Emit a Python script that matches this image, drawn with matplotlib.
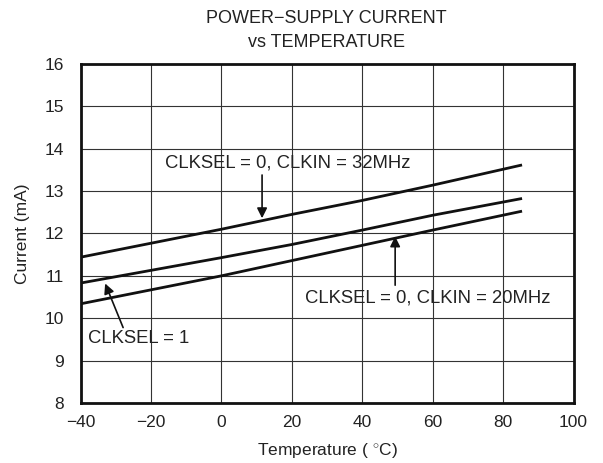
import matplotlib
matplotlib.use("Agg")
import matplotlib.pyplot as plt

temps = [-40, -20, 0, 20, 40, 60, 85]
clk32 = [11.44, 11.77, 12.10, 12.45, 12.78, 13.14, 13.61]
clk20 = [10.83, 11.13, 11.43, 11.74, 12.08, 12.43, 12.82]
clksel1 = [10.34, 10.67, 11.00, 11.36, 11.72, 12.08, 12.52]

x_ticks = [-40, -20, 0, 20, 40, 60, 80, 100]
y_ticks = [8, 9, 10, 11, 12, 13, 14, 15, 16]

plt.rcParams['font.family'] = ['Liberation Sans', 'DejaVu Sans']
plt.rcParams['mathtext.fontset'] = 'custom'
plt.rcParams['mathtext.rm'] = 'Liberation Sans'

fig = plt.figure(figsize=(6.03, 4.63), dpi=100)
ax = fig.add_axes([0.1335, 0.1296, 0.8176, 0.7322])

ax.plot(temps, clk32, color='#111111', lw=2.0)
ax.plot(temps, clk20, color='#111111', lw=2.0)
ax.plot(temps, clksel1, color='#111111', lw=2.0)

ax.set_xlim(-40, 100)
ax.set_ylim(8, 16)
ax.set_xticks(x_ticks)
ax.set_yticks(y_ticks)
ax.set_xticklabels([f"\u2212{abs(v)}" if v < 0 else str(v) for v in x_ticks])
ax.grid(True, color='#333333', lw=0.8)
ax.tick_params(axis='x', length=0, labelsize=12.5, pad=9, colors='#222222')
ax.tick_params(axis='y', length=0, labelsize=12.5, pad=12, colors='#222222')
for s in ax.spines.values():
    s.set_linewidth(2.0)
    s.set_color('#111111')

ax.set_xlabel("Temperature ( $^{\\circ}$C)", fontsize=12.5, color='#222222')
ax.xaxis.set_label_coords(0.5, -0.142)
ax.xaxis.label.set_va('center')
ax.set_ylabel("Current (mA)", fontsize=12.5, color='#222222')
ax.yaxis.set_label_coords(-0.117, 0.5)
ax.yaxis.label.set_va('center')

fig.text(0.541, 0.961, "POWER\u2212SUPPLY CURRENT", ha='center', va='center', fontsize=13, color='#222222')
fig.text(0.541, 0.909, "vs TEMPERATURE", ha='center', va='center', fontsize=13, color='#222222')

ap = dict(arrowstyle='-|>', color='#111111', lw=1.2, mutation_scale=15, shrinkA=0, shrinkB=0)

ax.text(-16.0, 13.66, "CLKSEL = 0, CLKIN = 32MHz", ha='left', va='center', fontsize=13.3, color='#222222')
ax.annotate("", xy=(11.56, 12.36), xytext=(11.56, 13.38), arrowprops=ap)

ax.text(23.8, 10.47, "CLKSEL = 0, CLKIN = 20MHz", ha='left', va='center', fontsize=13.3, color='#222222')
ax.annotate("", xy=(49.35, 11.93), xytext=(49.35, 10.78), arrowprops=ap)

ax.text(-37.9, 9.52, "CLKSEL = 1", ha='left', va='center', fontsize=13.3, color='#222222')
ax.annotate("", xy=(-33.0, 10.82), xytext=(-27.9, 9.78), arrowprops=ap)

fig.savefig("out.png", dpi=100)
